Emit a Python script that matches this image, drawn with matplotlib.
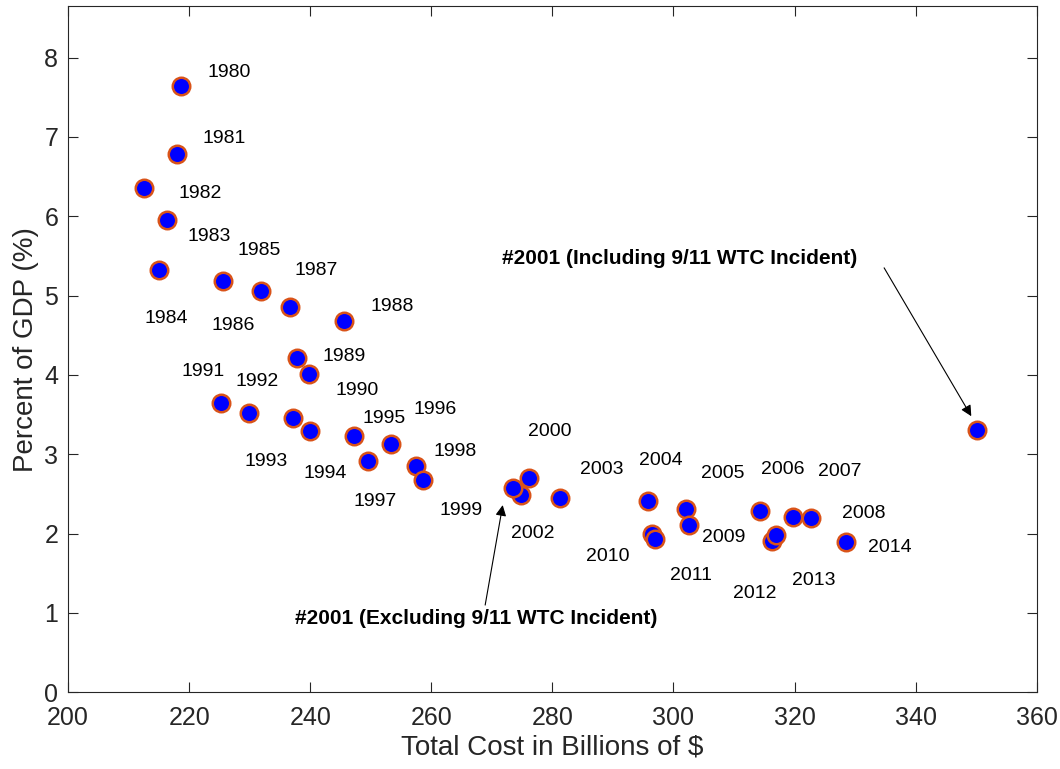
import numpy as np
import matplotlib
matplotlib.use("Agg")
import matplotlib.pyplot as plt

plt.rcParams['font.family'] = ['Liberation Sans', 'DejaVu Sans']

# values
years = list(range(1980, 2015))
cost = [218.7, 218.0, 212.5, 216.3, 215.0, 225.6, 231.9, 236.6, 245.6, 237.8,
        239.8, 225.3, 229.9, 237.2, 240.0, 247.3, 253.4, 249.6, 257.4, 258.7,
        276.1, 273.5, 274.8, 281.3, 295.8, 302.1, 314.3, 319.8, 322.8, 302.6,
        296.5, 297.0, 316.3, 316.9, 328.5]
gdp = [7.64, 6.79, 6.36, 5.95, 5.32, 5.19, 5.06, 4.86, 4.68, 4.21,
       4.01, 3.65, 3.52, 3.46, 3.29, 3.23, 3.13, 2.91, 2.85, 2.67,
       2.70, 2.57, 2.49, 2.45, 2.41, 2.31, 2.28, 2.21, 2.20, 2.11,
       2.00, 1.93, 1.91, 1.98, 1.89]
# 2001 including the 9/11 WTC incident
cost_2001_wtc = 350.1
gdp_2001_wtc = 3.30

# label offsets (pixels) for each year, 2001 has no label
label_dx = [48, 47, 56, 42, 7, 36, -28, 27, 48, 47,
            48, -18, 8, -27, 15, 30, 44, 7, 40, 38,
            21, None, 12, 42, 13, 37, 23, 46, 52, 35,
            -45, 36, -17, 38, 44]
label_dy = [14, 15, -6, -16, -48, 30, -35, 36, 14, 2,
            -16, 31, 32, -44, -42, 18, 34, -40, 15, -30,
            47, None, -39, 28, 41, 36, 42, 45, 4, -13,
            -23, -36, -53, -45, -5]

dot_style = dict(linestyle='none', marker='o', markersize=12.6,
                 markerfacecolor='#0000FF', markeredgecolor='#D95319',
                 markeredgewidth=1.8)

fig = plt.figure(figsize=(10.6, 7.69), dpi=100)
ax = fig.add_axes([0.0642, 0.0997, 0.978 - 0.0642, 0.9922 - 0.0997])

i01 = years.index(2001)
others = [i for i in range(len(years)) if i != i01]
ax.plot([cost[i] for i in others], [gdp[i] for i in others], **dot_style)
ax.plot([cost[i01]], [gdp[i01]], **dot_style)
ax.plot([cost_2001_wtc], [gdp_2001_wtc], **dot_style)

for i in others:
    ax.annotate(str(years[i]), (cost[i], gdp[i]),
                xytext=(label_dx[i], label_dy[i]), textcoords='offset pixels',
                ha='center', va='center', fontsize=14, color='black')

arrow = dict(arrowstyle='-|>', color='black', lw=0.8, mutation_scale=16,
             shrinkA=0, shrinkB=0)
ax.annotate('', xy=(349.2, 3.48), xytext=(334.8, 5.35), arrowprops=arrow)
ax.text(301.0, 5.47, '#2001 (Including 9/11 WTC Incident)', ha='center',
        va='center', fontsize=15, fontweight='bold')
ax.annotate('', xy=(271.8, 2.36), xytext=(268.9, 1.10), arrowprops=arrow)
ax.text(267.4, 0.93, '#2001 (Excluding 9/11 WTC Incident)', ha='center',
        va='center', fontsize=15, fontweight='bold')

ax.set_xlim(200, 360)
ax.set_ylim(0, 8.65)
ax.set_xticks(np.arange(200, 361, 20))
ax.set_yticks(np.arange(0, 9, 1))

for s in ax.spines.values():
    s.set_color('#262626')
    s.set_linewidth(0.8)
ax.tick_params(axis='both', which='both', direction='in', top=True, right=True,
               length=7, width=0.8, color='#262626', labelcolor='#262626',
               labelsize=18)
ax.tick_params(axis='x', pad=10)
ax.tick_params(axis='y', pad=7)

ax.set_xlabel('Total Cost in Billions of $', fontsize=20, color='#262626', labelpad=3)
ax.set_ylabel('Percent of GDP (%)', fontsize=20, color='#262626', labelpad=4)

fig.savefig('out.png', dpi=100)
